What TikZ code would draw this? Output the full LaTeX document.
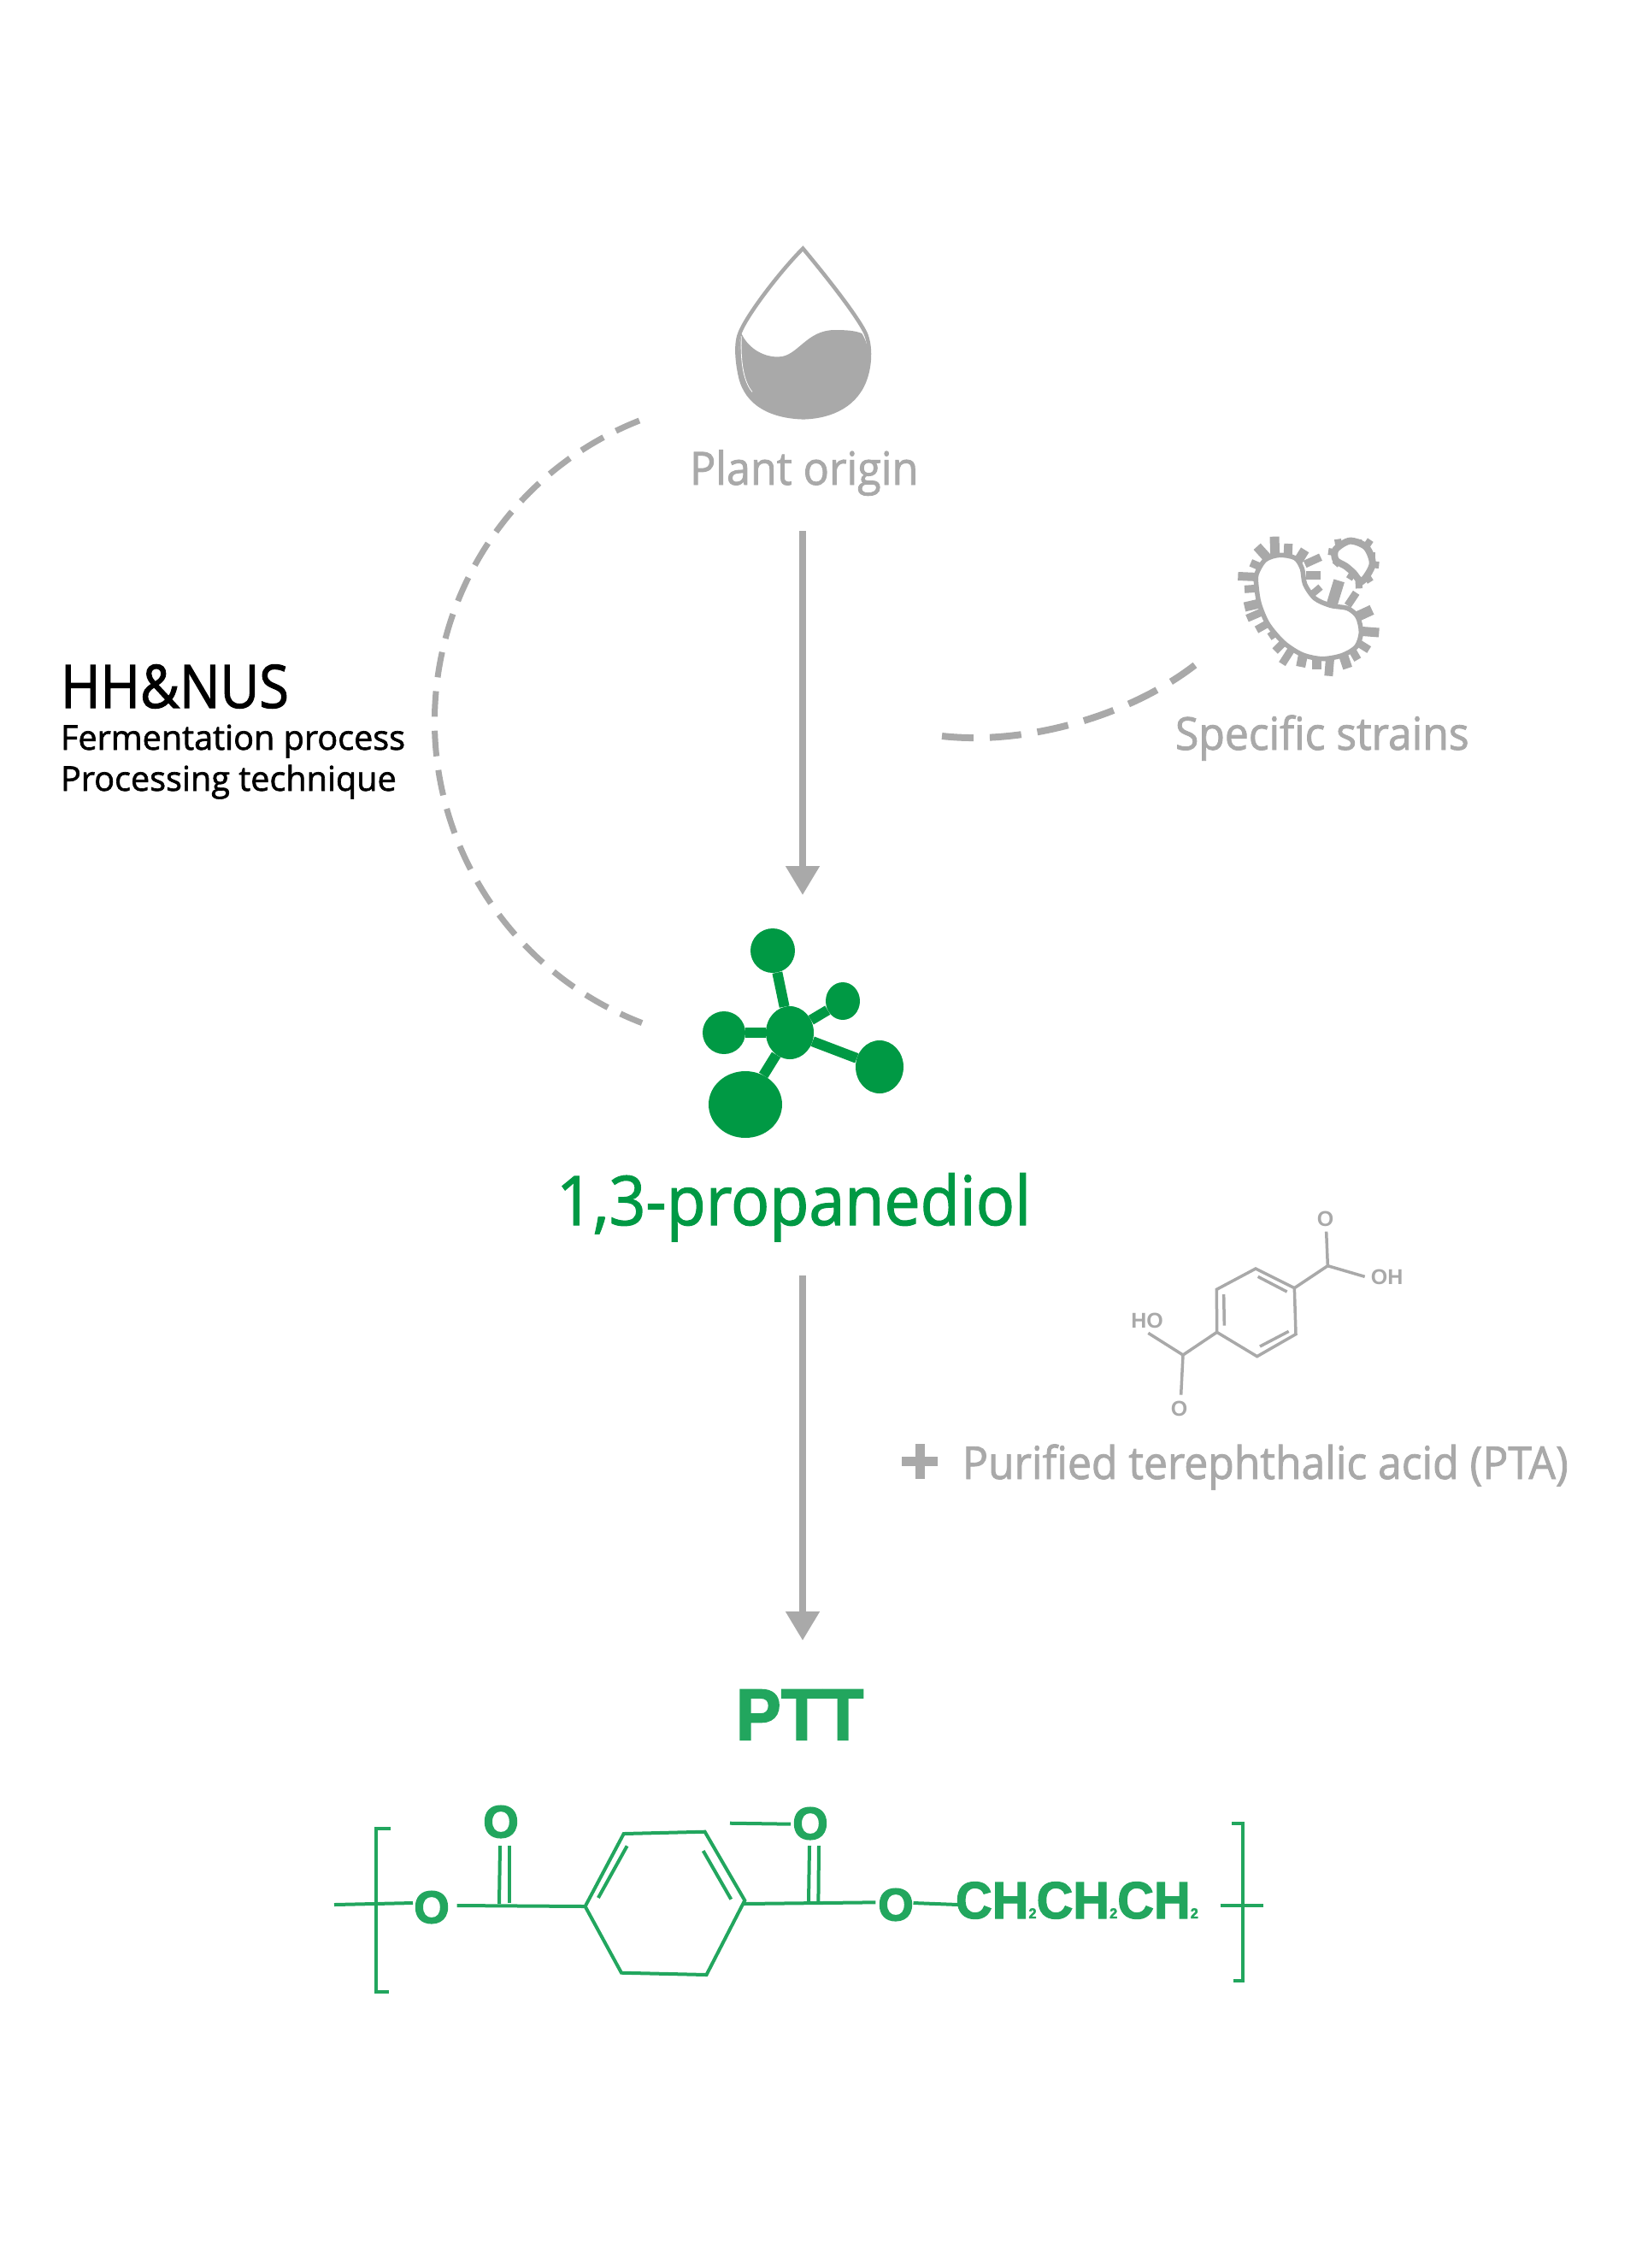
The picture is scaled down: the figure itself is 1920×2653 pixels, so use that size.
\documentclass[tikz,border=0pt]{standalone}
\usepackage{fontspec}
\setmainfont[FakeStretch=.9,FakeBold=1.6]{Open Sans}
\newfontfamily\labelface[FakeStretch=.94,FakeBold=1.6]{Open Sans}
\newfontfamily\noteface[FakeStretch=.99,FakeBold=1.6]{Open Sans}
\newfontfamily\formulafont[FakeStretch=.97,FakeBold=2]{Liberation Sans Bold}
\newfontfamily\atomfont[FakeBold=3]{Liberation Sans Bold}
\newfontfamily\titlefont[FakeStretch=.93,FakeBold=2]{Liberation Sans Bold}
\newfontfamily\ptafont{Liberation Sans Bold}
\usetikzlibrary{arrows.meta,shapes.geometric}
\definecolor{softgray}{HTML}{A9A9A9}
\definecolor{diolgreen}{HTML}{009944}
\definecolor{pttgreen}{HTML}{22A65E}
\tikzset{
	label/.style={anchor=base west, inner sep=0pt, outer sep=0pt},
	flow/.style={draw=softgray, line width=8pt, -{Triangle[width=38pt,length=34pt]}},
	dashline/.style={draw=softgray, dash pattern=on 30pt off 16.3pt},
	atom/.style={ellipse, fill=diolgreen, draw=none, inner sep=0pt},
	bond/.style={draw=diolgreen, line width=12pt},
	chain/.style={draw=pttgreen, line width=4pt},
	ptabond/.style={draw=softgray, line width=3.5pt},
	ptaatom/.style={inner sep=0pt, text=softgray, font=\ptafont\fontsize{25}{25}\selectfont},
	oatom/.style={inner sep=0pt, text=pttgreen, font=\atomfont\fontsize{53}{53}\selectfont}
}

\begin{document}
\begin{tikzpicture}[x=1pt,y=-1pt]
	\useasboundingbox (0,0) rectangle (1920,2653);

	% drop
	\begin{scope}[shift={(780,250)},scale=1/3]
		\fill[softgray] (262,420) .. controls (290,480) and (350,505) .. (395,502)
			.. controls (460,500) and (490,408) .. (590,408)
			.. controls (630,408) and (660,410) .. (685,420)
			.. controls (715,470) and (712,520) .. (700,570)
			.. controls (670,670) and (580,712) .. (480,715)
			.. controls (370,712) and (280,670) .. (258,570)
			.. controls (250,510) and (250,460) .. (262,420) -- cycle;
		\draw[softgray, line width=4.5pt] (478,122) .. controls (560,220) and (670,360) .. (698,420)
			.. controls (715,460) and (715,520) .. (700,570)
			.. controls (670,670) and (580,712) .. (480,715)
			.. controls (370,712) and (280,670) .. (258,570)
			.. controls (245,510) and (242,450) .. (258,415)
			.. controls (285,350) and (400,200) .. (478,122) -- cycle;
		\draw[white, line width=.8pt] (262,430) .. controls (258,520) and (270,590) .. (300,625);
	\end{scope}
	\node[label, text=softgray, font=\labelface\fontsize{53.5}{53.5}\selectfont] (plant) at (807,567) {Plant origin};

	\coordinate (plantout) at (939,621);
	\coordinate (diolin) at (939,1047);
	\draw[flow] (plantout) -- (diolin);

	% left arc
	\coordinate (arctop) at (748,492);
	\draw[dashline, line width=7pt] (arctop) arc[start angle=111.5, end angle=249, radius=378pt];

	\node[label, font=\fontsize{70}{70}\selectfont] (hhnus) at (71,828) {HH\&NUS};
	\node[label, font=\noteface\fontsize{40}{40}\selectfont] (ferment) at (71,877) {Fermentation process};
	\node[label, font=\noteface\fontsize{40}{40}\selectfont] (process) at (71,925) {Processing technique};

	% strain
	\coordinate (strainfrom) at (1102,861);
	\coordinate (strainto) at (1398,778);
	\draw[dashline, line width=8pt, dash pattern=on 37pt off 19pt] (strainfrom) .. controls (1200,872) and (1320,838) .. (strainto);
	\begin{scope}[shift={(1380,600)},scale=1/3]
		\foreach \xa/\ya/\xb/\yb/\w in {
			333/83/335/150/11, 272/118/310/160/11, 250/175/285/190/9, 205/222/275/225/10,
			228/268/270/265/9, 228/330/280/318/11, 237/370/295/345/9, 270/410/315/385/9,
			315/435/345/415/9, 335/485/365/455/9, 360/530/395/475/9, 425/540/435/490/11,
			480/548/480/505/11, 523/572/528/510/10, 590/545/575/500/11, 625/515/605/480/9,
			665/480/625/455/9, 700/420/635/415/11, 675/340/610/370/12, 620/280/590/325/9,
			560/238/535/320/13, 495/260/465/285/8, 495/218/445/218/10, 495/155/440/180/9,
			440/130/415/170/11, 382/108/380/150/10}
			\draw[softgray, line width=\w pt] (\xa,\ya) -- (\xb,\yb);
		\draw[softgray, fill=white, line width=5.5pt] plot[smooth cycle] coordinates {
			(270,215) (300,165) (350,148) (405,158) (430,195) (440,250) (475,300) (530,325)
			(590,335) (625,365) (637,420) (620,470) (570,500) (500,512) (430,497) (365,455)
			(310,390) (280,320) (270,260)};
		\foreach \xa/\ya/\xb/\yb in {
			555/92/560/125, 590/90/590/115, 628/92/625/115, 670/95/650/125, 688/150/655/150,
			700/183/665/180, 670/242/650/210, 630/265/628/225, 595/232/615/200, 545/183/565/160,
			522/135/555/140}
			\draw[softgray, line width=8pt] (\xa,\ya) -- (\xb,\yb);
		\draw[softgray, fill=white, line width=8pt] plot[smooth cycle] coordinates {
			(548,128) (598,98) (655,120) (677,180) (640,240) (610,210) (583,187) (548,165)};
	\end{scope}
	\node[label, text=softgray, font=\labelface\fontsize{53}{53}\selectfont] (strains) at (1375,877) {Specific strains};

	% molecule
	\node[atom, minimum width=56pt, minimum height=62pt] (hub) at (924,1208) {};
	\node[atom, minimum width=52pt, minimum height=52pt] (atomtop) at (904,1112) {};
	\node[atom, minimum width=40pt, minimum height=44pt] (atomsmall) at (986,1171) {};
	\node[atom, minimum width=50pt, minimum height=50pt] (atomleft) at (847,1208) {};
	\node[atom, minimum width=56pt, minimum height=62pt] (atomright) at (1029,1248) {};
	\node[atom, minimum width=86pt, minimum height=78pt] (atombig) at (872,1292) {};
	\foreach \other in {atomtop,atomsmall,atomleft,atomright,atombig}
		\draw[bond] (hub) -- (\other);
	\node[label, text=diolgreen, font=\labelface\fontsize{80}{80}\selectfont] (diol) at (651,1433) {1,3-propanediol};

	\coordinate (diolout) at (939,1492);
	\coordinate (pttin) at (939,1919);
	\draw[flow] (diolout) -- (pttin);

	% terephthalic acid
	\begin{scope}[shift={(1280,1400)},scale=1/3]
		\coordinate (r1) at (567,252);
		\coordinate (r2) at (703,320);
		\coordinate (r3) at (708,482);
		\coordinate (r4) at (572,560);
		\coordinate (r5) at (431,475);
		\coordinate (r6) at (430,325);
		\coordinate (ca) at (820,242);
		\coordinate (cb) at (312,555);
		\coordinate (d1) at (575,280);
		\coordinate (d2) at (677,333);
		\coordinate (d3) at (683,472);
		\coordinate (d4) at (582,525);
		\coordinate (d5) at (455,342);
		\coordinate (d6) at (457,452);
		\coordinate (ao) at (815,122);
		\coordinate (ah) at (950,280);
		\coordinate (bh) at (190,478);
		\coordinate (bo) at (305,695);
		\node[ptaatom] (oa) at (812,78) {O};
		\node[ptaatom] (oh) at (1028,282) {OH};
		\node[ptaatom] (ho) at (186,435) {HO};
		\node[ptaatom] (ob) at (299,745) {O};
	\end{scope}
	\draw[ptabond, line join=miter] (r1) -- (r2) -- (r3) -- (r4) -- (r5) -- (r6) -- cycle;
	\foreach \a/\b in {d1/d2,d3/d4,d5/d6,r2/ca,ca/ao,ca/ah,r5/cb,cb/bh,cb/bo}
		\draw[ptabond] (\a) -- (\b);

	\draw[softgray, line width=11pt] (1055,1709.5) -- (1097,1709.5);
	\draw[softgray, line width=11pt] (1076,1689) -- (1076,1730);
	\node[label, text=softgray, font=\labelface\fontsize{53}{53}\selectfont] (pta) at (1126,1730) {Purified terephthalic acid (PTA)};

	% PTT
	\node[label, text=pttgreen, font=\titlefont\fontsize{85}{85}\selectfont] (ptt) at (861,2035) {PTT};

	\node[oatom] (oleft) at (505,2231) {O};
	\node[oatom] (otopa) at (586,2131) {O};
	\node[oatom] (otopb) at (948,2133) {O};
	\node[oatom] (oright) at (1048,2228) {O};
	\node[label, text=pttgreen, font=\formulafont\fontsize{61}{61}\selectfont] (chains) at (1118,2244)
		{CH{\fontsize{17}{17}\selectfont 2}CH{\fontsize{17}{17}\selectfont 2}CH{\fontsize{17}{17}\selectfont 2}};

	\coordinate (ra) at (684.6,2230);
	\coordinate (rb) at (729.7,2145);
	\coordinate (rc) at (824.6,2142.7);
	\coordinate (rd) at (871.3,2223);
	\coordinate (re) at (826.5,2310);
	\coordinate (rf) at (727,2307.7);
	\draw[chain, line join=miter] (ra) -- (rb) -- (rc) -- (rd) -- (re) -- (rf) -- cycle;
	\draw[chain] (733.6,2159.3) -- (699.9,2220);
	\draw[chain] (822.7,2165) -- (855.3,2221.7);

	\draw[chain] (534.6,2229) -- (ra);
	\draw[chain] (584,2227) -- (585,2159);
	\draw[chain] (596,2226) -- (596,2159);
	\draw[chain] (rd) ++(-2,4) -- (1024.4,2225.3);
	\draw[chain] (854,2132.7) -- (925,2133.7);
	\draw[chain] (946,2225) -- (947,2159);
	\draw[chain] (957.4,2225) -- (958,2159);
	\draw[chain] (1068.5,2226) -- (1121,2228);

	% brackets
	\draw[chain] (456.5,2138.5) -- (440,2138.5) -- (440,2330) -- (455,2330);
	\draw[chain] (391,2228) -- (483,2226);
	\draw[chain] (1441.4,2133) -- (1454,2133) -- (1454,2316.7) -- (1443,2316.7);
	\draw[chain] (1427.6,2229) -- (1478,2229);
\end{tikzpicture}
\end{document}
